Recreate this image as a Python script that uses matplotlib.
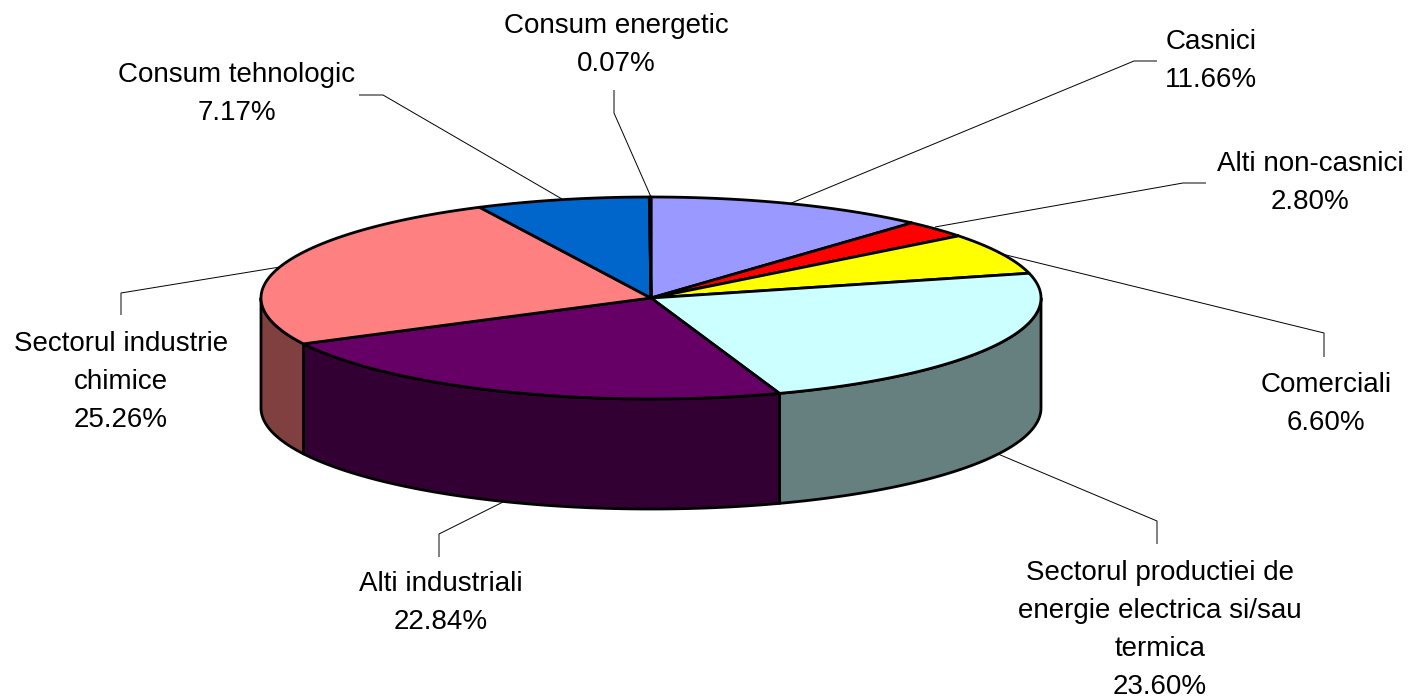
import numpy as np
import matplotlib
matplotlib.use("Agg")
import matplotlib.pyplot as plt

# --- data ---
categories = ["Casnici", "Alti non-casnici", "Comerciali",
              "Sectorul productiei de\nenergie electrica si/sau\ntermica",
              "Alti industriali", "Sectorul industrie\nchimice",
              "Consum tehnologic", "Consum energetic"]
values = [11.66, 2.80, 6.60, 23.60, 22.84, 25.26, 7.17, 0.07]
top_colors = ["#9999FF", "#FF0000", "#FFFF00", "#CCFFFF", "#660066", "#FF8080", "#0066CC", "#FFFFCC"]
side_colors = ["#4D4D80", "#800000", "#808000", "#667F7F", "#330033", "#804040", "#003366", "#808066"]

# --- layout (pixels) ---
CX, CY, RX, RY, DEPTH = 651, 298, 390, 101, 110
LW = 2.0
label_pos = [(1211, 61), (1310, 183), (1326, 404), (1160, 630), (441, 603), (121, 382), (237, 94), (616, 45)]
leaders = [
    [(789, 204), (1134, 61), (1157, 61)],
    [(935, 227), (1183, 183), (1206, 183)],
    [(998, 253), (1324, 333), (1324, 357)],
    [(998, 454), (1157, 521), (1157, 544)],
    [(503, 502), (439, 534), (439, 557)],
    [(280, 267), (121, 293), (121, 315)],
    [(562, 199), (383, 95), (359, 95)],
    [(651, 197), (614, 113), (614, 90)],
]

plt.rcParams["font.family"] = ["Liberation Sans", "DejaVu Sans"]
fig = plt.figure(figsize=(14.18, 6.99), dpi=100)
ax = fig.add_axes([0, 0, 1, 1])
ax.set_xlim(0, 1418)
ax.set_ylim(699, 0)
ax.axis("off")


def rim(a0, a1, dy=0):
    t = np.linspace(a0, a1, max(int(abs(a1 - a0) * 2), 2))
    r = np.radians(t)
    return CX + RX * np.sin(r), CY + dy - RY * np.cos(r)


edges = 360 * np.concatenate([[0], np.cumsum(values)]) / sum(values)

# side wall: only the front half of the rim, 90..270 degrees
for i in range(len(values)):
    a0, a1 = max(edges[i], 90), min(edges[i + 1], 270)
    if a1 <= a0:
        continue
    x0, y0 = rim(a0, a1)
    x1, y1 = rim(a0, a1, DEPTH)
    ax.fill(np.r_[x0, x1[::-1]], np.r_[y0, y1[::-1]], fc=side_colors[i], ec="black", lw=LW,
            joinstyle="round", zorder=2)

# top face
for i in range(len(values)):
    x, y = rim(edges[i], edges[i + 1])
    ax.fill(np.r_[CX, x], np.r_[CY, y], fc=top_colors[i], ec="black", lw=LW,
            joinstyle="round", zorder=3)

# leaders
for pts in leaders:
    px, py = zip(*pts)
    ax.plot(px, py, color="black", lw=0.7, zorder=4, solid_capstyle="butt")

# labels
for name, v, (lx, ly) in zip(categories, values, label_pos):
    ax.text(lx, ly, f"{name}\n{v:.2f}%", ha="center", va="center", fontsize=20,
            linespacing=1.6, color="black", zorder=5)

fig.savefig("out.png", dpi=100, facecolor="white")
